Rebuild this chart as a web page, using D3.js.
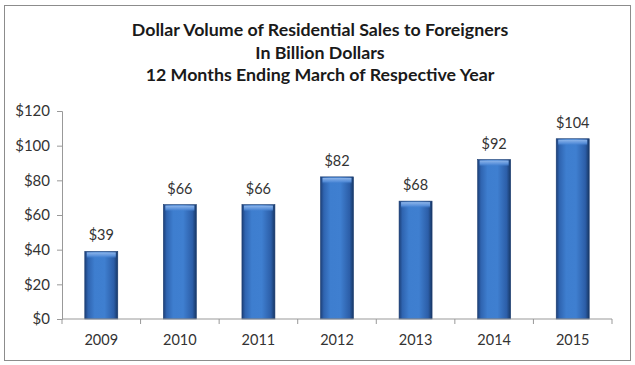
<!DOCTYPE html>
<html>
<head>
<meta charset="utf-8">
<script src="https://cdn.jsdelivr.net/npm/d3@7"></script>
<style>
	body { margin: 0; background: #fff; }
	svg { display: block; font-family: Lato, "Open Sans", sans-serif; }
</style>
</head>
<body>
<svg id="chart" width="635" height="365"></svg>
<script>
// Chart data
const years = ["2009", "2010", "2011", "2012", "2013", "2014", "2015"];
const volumes = [39, 66, 66, 82, 68, 92, 104];
const yTicks = [0, 20, 40, 60, 80, 100, 120];
const titleLines = [
	"Dollar Volume of Residential Sales to Foreigners",
	"In Billion Dollars",
	"12 Months Ending March of Respective Year",
];

const svg = d3.select("#chart");

// Outer frame
svg
	.append("rect")
	.attr("x", 4.5)
	.attr("y", 5.5)
	.attr("width", 626)
	.attr("height", 355)
	.attr("fill", "#fff")
	.attr("stroke", "#8c8c8c");

// Title
svg
	.append("g")
	.selectAll("text")
	.data(titleLines)
	.enter()
	.append("text")
	.attr("x", 320)
	.attr("y", (d, i) => 36 + i * 22.5)
	.attr("text-anchor", "middle")
	.attr("font-size", 17.8)
	.attr("font-weight", "bold")
	.attr("fill", "#1a1a1a")
	.text((d) => d);

const left = 62;
const right = 612;

const x = d3
	.scaleBand()
	.domain(years)
	.range([left, right])
	.paddingInner(0.58)
	.paddingOuter(0.29);

const y = d3.scaleLinear().domain([0, 120]).range([319, 111]);

// Bar gradients
const defs = svg.append("defs");
const sideGrad = defs.append("linearGradient").attr("id", "barSide");
sideGrad
	.selectAll("stop")
	.data([
		["0%", "#1c3f78"],
		["10%", "#2f64b0"],
		["30%", "#3e7ecf"],
		["60%", "#3f7fd0"],
		["88%", "#2c5ea8"],
		["100%", "#173765"],
	])
	.enter()
	.append("stop")
	.attr("offset", (d) => d[0])
	.attr("stop-color", (d) => d[1]);

const topGrad = defs
	.append("linearGradient")
	.attr("id", "barTop")
	.attr("x1", 0)
	.attr("y1", 0)
	.attr("x2", 0)
	.attr("y2", 1);
topGrad
	.selectAll("stop")
	.data([
		["0%", "#8fb6ea", 1],
		["60%", "#5b92dc", 0.9],
		["100%", "#3d7ccc", 0],
	])
	.enter()
	.append("stop")
	.attr("offset", (d) => d[0])
	.attr("stop-color", (d) => d[1])
	.attr("stop-opacity", (d) => d[2]);

// Y axis
const yAxis = svg
	.append("g")
	.attr("transform", `translate(${left},0)`)
	.call(
		d3
			.axisLeft(y)
			.tickValues(yTicks)
			.tickSize(5)
			.tickPadding(7)
			.tickFormat((d) => "$" + d)
	);
yAxis.select(".domain").attr("stroke", "#999");
yAxis.selectAll(".tick line").attr("stroke", "#999");
yAxis
	.selectAll(".tick text")
	.attr("font-size", 15)
	.attr("fill", "#333")
	.attr("font-family", "Lato, sans-serif");

// Bars
const bars = svg
	.append("g")
	.selectAll("g")
	.data(years.map((yr, i) => ({ year: yr, value: volumes[i] })))
	.enter()
	.append("g");

bars
	.append("rect")
	.attr("x", (d) => x(d.year))
	.attr("y", (d) => y(d.value))
	.attr("width", x.bandwidth())
	.attr("height", (d) => y(0) - y(d.value))
	.attr("fill", "url(#barSide)")
	.attr("stroke", "#1b3c70")
	.attr("stroke-width", 0.6);

bars
	.append("rect")
	.attr("x", (d) => x(d.year) + 2)
	.attr("y", (d) => y(d.value) + 1)
	.attr("width", x.bandwidth() - 4)
	.attr("height", 6)
	.attr("fill", "url(#barTop)");

bars
	.append("text")
	.attr("x", (d) => x(d.year) + x.bandwidth() / 2)
	.attr("y", (d) => y(d.value) - 11)
	.attr("text-anchor", "middle")
	.attr("font-size", 14.5)
	.attr("fill", "#333")
	.text((d) => "$" + d.value);

// X axis with ticks between categories
const step = x.step();
const firstEdge = x(years[0]) - x.paddingOuter() * step;
const xAxis = svg.append("g").attr("transform", `translate(0,${y(0)})`);
xAxis
	.append("line")
	.attr("x1", left)
	.attr("x2", right)
	.attr("stroke", "#999");
xAxis
	.selectAll(".edge")
	.data(d3.range(years.length + 1))
	.enter()
	.append("line")
	.attr("x1", (i) => firstEdge + i * step)
	.attr("x2", (i) => firstEdge + i * step)
	.attr("y1", 0)
	.attr("y2", 5)
	.attr("stroke", "#999");
xAxis
	.selectAll(".lbl")
	.data(years)
	.enter()
	.append("text")
	.attr("x", (d) => x(d) + x.bandwidth() / 2)
	.attr("y", 26)
	.attr("text-anchor", "middle")
	.attr("font-size", 14.5)
	.attr("fill", "#333")
	.text((d) => d);
</script>
</body>
</html>
